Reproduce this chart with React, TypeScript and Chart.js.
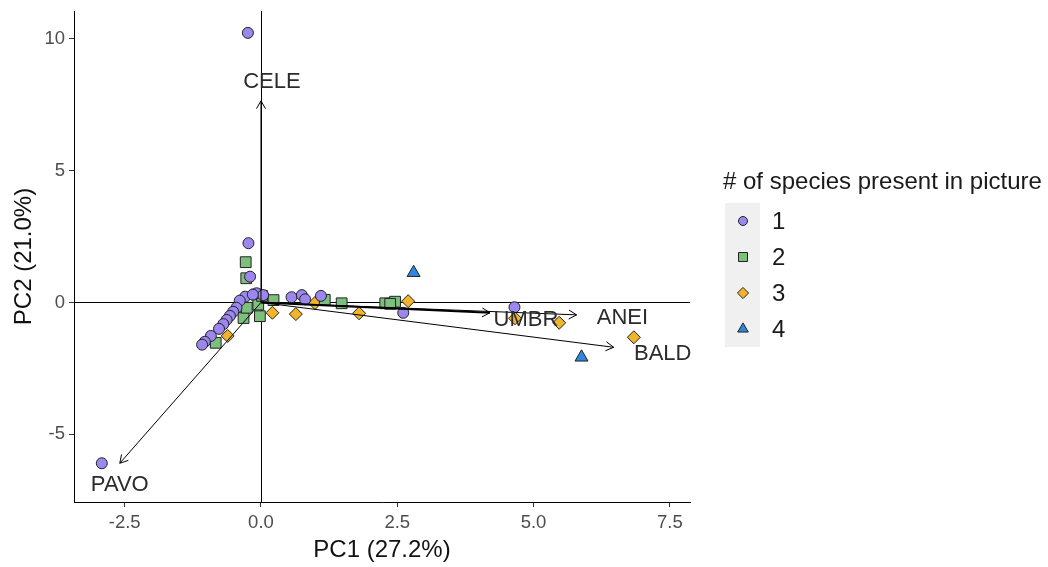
import React, { useEffect, useRef } from "react";
import { Chart, registerables } from "chart.js";

Chart.register(...registerables);

const FONT = "'Liberation Sans', Arial, Helvetica, sans-serif";

// ---- data ----
const groupLabels = ["1", "2", "3", "4"];
const groupColors = ["#9C87EE", "#7DBF7D", "#F2B42A", "#2E86DE"];
const legendTitle = "# of species present in picture";

const group1X = [-0.24, -2.92, -0.23, -0.2, -0.29, -0.39, -0.45, -0.51, -0.57, -0.63, -0.69, -0.77, -0.92, -1.03, -1.08, -0.08, 0.04, 0.56, 0.75, 0.81, 1.1, 2.61, 4.65, -0.15];
const group1Y = [10.23, -6.1, 2.25, 0.98, 0.22, 0.07, -0.2, -0.35, -0.51, -0.66, -0.82, -1.0, -1.27, -1.49, -1.6, 0.35, 0.28, 0.2, 0.28, 0.12, 0.25, -0.39, -0.18, 0.3];

const group2X = [-0.28, -0.27, -0.08, 0.23, -0.32, -0.26, -0.02, -0.05, -0.83, 1.17, 1.48, 2.28, 2.46, 2.37, 0.02];
const group2Y = [1.53, 0.92, 0.3, 0.09, -0.59, -0.2, -0.52, -0.08, -1.53, 0.1, -0.03, -0.03, 0.03, -0.05, 0.25];

const group3X = [-0.61, 0.21, 0.64, 0.99, 1.8, 2.7, 4.66, 5.47, 6.84];
const group3Y = [-1.27, -0.39, -0.44, -0.02, -0.41, 0.05, -0.6, -0.77, -1.32];

const group4X = [2.8, 5.88];
const group4Y = [1.13, -2.08];

const loadingNames = ["CELE", "PAVO", "UMBR", "ANEI", "BALD"];
const loadingX = [0, -2.59, 4.2, 5.79, 6.47];
const loadingY = [7.65, -6.1, -0.39, -0.47, -1.7];
const loadingLabelX = [0.2, -2.59, 4.86, 6.63, 7.37];
const loadingLabelY = [8.37, -6.93, -0.66, -0.6, -1.95];

const xTicks = [-2.5, 0, 2.5, 5, 7.5];
const xTickLabels = ["-2.5", "0.0", "2.5", "5.0", "7.5"];
const yTicks = [-5, 0, 5, 10];
const yTickLabels = ["-5", "0", "5", "10"];
const xTitle = "PC1 (27.2%)";
const yTitle = "PC2 (21.0%)";

const groupsX = [group1X, group2X, group3X, group4X];
const groupsY = [group1Y, group2Y, group3Y, group4Y];
const pointStyles = ["circle", "rect", "rectRot", "triangle"];
const pointRadii = [5.5, 7.6, 6.5, 7.5];

function drawSymbol(ctx: CanvasRenderingContext2D, style: string, x: number, y: number, s: number) {
  ctx.beginPath();
  if (style === "circle") {
    ctx.arc(x, y, s * 0.5, 0, Math.PI * 2);
  } else if (style === "rect") {
    ctx.rect(x - s * 0.5, y - s * 0.5, s, s);
  } else if (style === "rectRot") {
    const h = s * 0.62;
    ctx.moveTo(x, y - h);
    ctx.lineTo(x + h, y);
    ctx.lineTo(x, y + h);
    ctx.lineTo(x - h, y);
    ctx.closePath();
  } else {
    const r = s * 0.68;
    ctx.moveTo(x, y - r);
    ctx.lineTo(x + r * Math.sin((2 * Math.PI) / 3), y - r * Math.cos((2 * Math.PI) / 3));
    ctx.lineTo(x + r * Math.sin((4 * Math.PI) / 3), y - r * Math.cos((4 * Math.PI) / 3));
    ctx.closePath();
  }
  ctx.fill();
  ctx.stroke();
}

const zeroLinesPlugin = {
  id: "zeroLines",
  beforeDatasetsDraw(chart: any) {
    const { ctx, chartArea, scales } = chart;
    const x0 = Math.round(scales.x.getPixelForValue(0)) + 0.5;
    const y0 = Math.round(scales.y.getPixelForValue(0)) + 0.5;
    ctx.save();
    ctx.strokeStyle = "#000";
    ctx.lineWidth = 1;
    ctx.beginPath();
    ctx.moveTo(x0, chartArea.top);
    ctx.lineTo(x0, chartArea.bottom);
    ctx.moveTo(chartArea.left, y0);
    ctx.lineTo(chartArea.right, y0);
    ctx.stroke();
    ctx.restore();
  },
};

const biplotPlugin = {
  id: "biplot",
  afterDatasetsDraw(chart: any) {
    const { ctx, scales } = chart;
    const xs = scales.x;
    const ys = scales.y;
    const ox = xs.getPixelForValue(0);
    const oy = ys.getPixelForValue(0);
    ctx.save();
    ctx.strokeStyle = "#000";
    loadingNames.forEach((name, i) => {
      const x1 = xs.getPixelForValue(loadingX[i]);
      const y1 = ys.getPixelForValue(loadingY[i]);
      ctx.lineWidth = name === "UMBR" ? 2 : 1;
      ctx.beginPath();
      ctx.moveTo(ox, oy);
      ctx.lineTo(x1, y1);
      ctx.stroke();
      const a = Math.atan2(y1 - oy, x1 - ox);
      const len = 9;
      const spread = Math.PI / 6;
      ctx.lineWidth = 1;
      ctx.beginPath();
      ctx.moveTo(x1 - len * Math.cos(a - spread), y1 - len * Math.sin(a - spread));
      ctx.lineTo(x1, y1);
      ctx.lineTo(x1 - len * Math.cos(a + spread), y1 - len * Math.sin(a + spread));
      ctx.stroke();
    });
    ctx.fillStyle = "#2b2b2b";
    ctx.font = `22px ${FONT}`;
    ctx.textAlign = "center";
    ctx.textBaseline = "middle";
    loadingNames.forEach((name, i) => {
      ctx.fillText(name, xs.getPixelForValue(loadingLabelX[i]), ys.getPixelForValue(loadingLabelY[i]));
    });
    ctx.restore();
  },
};

const legendPlugin = {
  id: "customLegend",
  afterDraw(chart: any) {
    const { ctx, chartArea } = chart;
    const left = chartArea.right + 35;
    const top = 203;
    const keyW = 35;
    const keyH = 36;
    ctx.save();
    ctx.fillStyle = "#1a1a1a";
    ctx.font = `24px ${FONT}`;
    ctx.textAlign = "left";
    ctx.textBaseline = "middle";
    ctx.fillText(legendTitle, left - 2, 182);
    ctx.fillStyle = "#F0F0F0";
    ctx.fillRect(left, top, keyW, keyH * groupLabels.length);
    groupLabels.forEach((lab, i) => {
      const cy = top + keyH * i + keyH / 2;
      ctx.fillStyle = groupColors[i];
      ctx.strokeStyle = "#222";
      ctx.lineWidth = 1;
      drawSymbol(ctx, pointStyles[i], left + 18, cy, 9);
      ctx.fillStyle = "#1a1a1a";
      ctx.font = `24px ${FONT}`;
      ctx.fillText(lab, left + 47, cy + 1);
    });
    ctx.restore();
  },
};

export default function App() {
  const ref = useRef<HTMLCanvasElement | null>(null);
  useEffect(() => {
    if (!ref.current) return;
    const datasets = groupLabels.map((lab, i) => ({
      label: lab,
      data: groupsX[i].map((x, j) => ({ x, y: groupsY[i][j] })),
      backgroundColor: groupColors[i],
      borderColor: "#222",
      borderWidth: 1,
      pointStyle: pointStyles[i],
      pointRadius: pointRadii[i],
      pointHoverRadius: pointRadii[i],
    }));
    const chart = new Chart(ref.current, {
      type: "scatter",
      data: { datasets: datasets as any },
      plugins: [zeroLinesPlugin, biplotPlugin, legendPlugin],
      options: {
        animation: false,
        responsive: false,
        events: [],
        layout: { padding: { left: 0, right: 358, top: 11, bottom: 0 } },
        plugins: { legend: { display: false }, tooltip: { enabled: false } },
        scales: {
          x: {
            type: "linear",
            min: -3.43,
            max: 7.87,
            afterBuildTicks: (s: any) => {
              s.ticks = xTicks.map((v) => ({ value: v }));
            },
            afterFit: (s: any) => {
              s.height = 65;
              s.paddingLeft = 0;
              s.paddingRight = 0;
            },
            ticks: {
              autoSkip: false,
              maxRotation: 0,
              padding: 5,
              color: "#4D4D4D",
              font: { size: 18.5, family: FONT },
              callback: (v: any) => {
                const k = xTicks.indexOf(Number(v));
                return k >= 0 ? xTickLabels[k] : "";
              },
            },
            grid: { drawOnChartArea: false, drawTicks: true, tickLength: 5, color: "#333", tickColor: "#333" },
            border: { display: true, color: "#000", width: 1 },
            title: { display: true, text: xTitle, color: "#111", font: { size: 24, family: FONT }, padding: { top: 0, bottom: 2 } },
          },
          y: {
            type: "linear",
            min: -7.57,
            max: 11.06,
            afterBuildTicks: (s: any) => {
              s.ticks = yTicks.map((v) => ({ value: v }));
            },
            afterFit: (s: any) => {
              s.width = 74;
              s.paddingTop = 0;
              s.paddingBottom = 0;
            },
            ticks: {
              autoSkip: false,
              padding: 4,
              color: "#4D4D4D",
              font: { size: 18.5, family: FONT },
              callback: (v: any) => {
                const k = yTicks.indexOf(Number(v));
                return k >= 0 ? yTickLabels[k] : "";
              },
            },
            grid: { drawOnChartArea: false, drawTicks: true, tickLength: 5, color: "#333", tickColor: "#333" },
            border: { display: true, color: "#000", width: 1 },
            title: { display: true, text: yTitle, color: "#111", font: { size: 24, family: FONT }, padding: { top: 10, bottom: 0 } },
          },
        },
      } as any,
    });
    return () => chart.destroy();
  }, []);
  return (
    <div style={{ position: "absolute", left: 0, top: 0, width: 1048, height: 567, background: "#fff" }}>
      <canvas ref={ref} width={1048} height={567} style={{ display: "block" }} />
    </div>
  );
}
